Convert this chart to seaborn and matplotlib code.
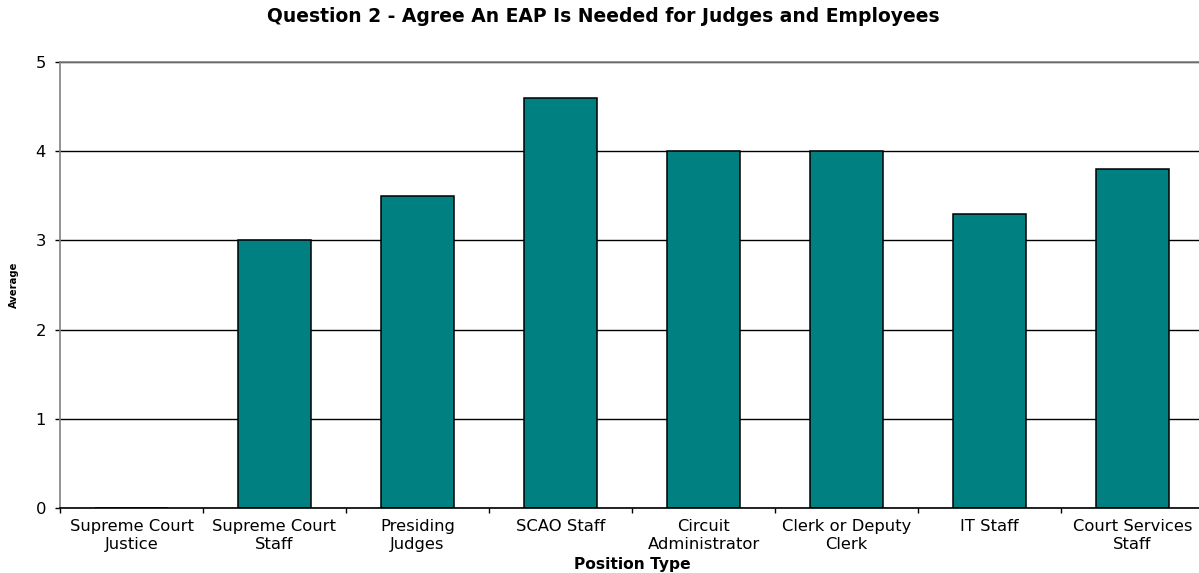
import numpy as np
import pandas as pd
import matplotlib
matplotlib.use("Agg")
import matplotlib.pyplot as plt
import seaborn as sns

# Survey results: average agreement by position type
positions = [
    "Supreme Court\nJustice",
    "Supreme Court\nStaff",
    "Presiding\nJudges",
    "SCAO Staff",
    "Circuit\nAdministrator",
    "Clerk or Deputy\nClerk",
    "IT Staff",
    "Court Services\nStaff",
]
averages = [0.0, 3.0, 3.5, 4.6, 4.0, 4.0, 3.3, 3.8]
y_ticks = [0, 1, 2, 3, 4, 5]

df = pd.DataFrame({"Position Type": positions, "Average": averages})

sns.set_theme(style="white")
plt.rcParams["font.family"] = ["DejaVu Sans"]

W, H = 1199, 573
fig = plt.figure(figsize=(W / 100, H / 100), dpi=100)
ax = fig.add_axes([60 / W, 65 / H, 1144 / W, 446 / H])

sns.barplot(
    data=df, x="Position Type", y="Average", order=positions,
    color="#008080", saturation=1, edgecolor="black", linewidth=1.1,
    width=0.51, ax=ax,
)

ax.set_xlim(-0.5, len(positions) - 0.5)
ax.set_ylim(0, 5)
ax.set_yticks(y_ticks)
ax.set_yticklabels([str(t) for t in y_ticks], fontsize=11.8, color="black")

# horizontal gridlines behind bars
ax.set_axisbelow(True)
ax.yaxis.grid(True, color="black", linewidth=1.0)
ax.xaxis.grid(False)

# category labels centred, tick marks at category boundaries
ax.set_xticks(range(len(positions)))
ax.set_xticklabels(positions, fontsize=11.8, color="black", linespacing=1.2)
ax.set_xticks(np.arange(-0.5, len(positions), 1.0), minor=True)
ax.tick_params(axis="x", which="major", length=0, pad=8)
ax.tick_params(axis="x", which="minor", length=3.6, width=1, color="black",
               direction="out", bottom=True)
ax.tick_params(axis="y", which="major", length=3.6, width=1, color="black",
               direction="out", left=True, pad=6.5)

for side in ["top", "left"]:
    ax.spines[side].set_color("#808080")
    ax.spines[side].set_linewidth(1.2)
ax.spines["bottom"].set_color("black")
ax.spines["bottom"].set_linewidth(1.2)
ax.spines["right"].set_visible(False)

ax.set_xlabel("")
ax.set_ylabel("")
fig.text(632 / W, 1 - 565 / H, "Position Type", ha="center", va="center",
         fontsize=11.2, fontweight="bold", color="black")
fig.text(14 / W, 1 - 285 / H, "Average", ha="center", va="center",
         rotation=90, fontsize=7.2, fontweight="bold", color="black")
fig.text(603 / W, 1 - 16 / H,
         "Question 2 - Agree An EAP Is Needed for Judges and Employees",
         ha="center", va="center", fontsize=13.5, fontweight="bold", color="black")

fig.savefig("out.png", dpi=100)
